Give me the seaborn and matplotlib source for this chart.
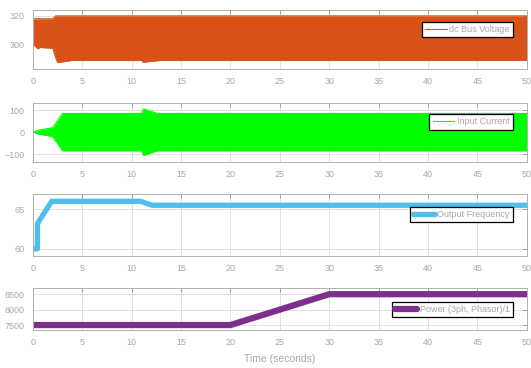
import numpy as np
import pandas as pd
import seaborn as sns
import matplotlib.pyplot as plt
from matplotlib.lines import Line2D

# envelope of dc bus voltage (fast oscillation drawn as band)
v_t = [0, 0.3, 0.5, 0.7, 2.0, 2.3, 2.5, 4, 11, 11.2, 11.5, 13, 50]
v_hi = [318, 318, 318, 318, 318, 320, 320, 320, 320, 320, 320, 320, 320]
v_lo = [300, 298.5, 297, 298, 297.5, 291, 287.5, 289, 289, 287.5, 288, 289, 289]

# envelope of input current
i_t = [0, 0.5, 2.0, 3.0, 11.0, 11.2, 12.6, 50]
i_hi = [0, 8, 20, 85, 85, 106, 85, 85]
i_lo = [0, -8, -20, -85, -85, -106, -85, -85]

# output frequency
f_t = [0, 0.45, 0.46, 1.9, 10.9, 12.1, 50]
f_val = [60, 60, 63.2, 66, 66, 65.5, 65.5]

# power
p_t = [0, 20, 30, 50]
p_val = [7500, 7500, 8500, 8500]

sns.set_style('white')
plt.rcParams['font.family'] = ['Liberation Sans', 'DejaVu Sans']

gray = '#a8a8a8'
fig = plt.figure(figsize=(5.31, 3.68), dpi=100)
left, width = 0.062, 0.930
boxes = [(0.8125, 0.160), (0.5598, 0.160), (0.3043, 0.168), (0.1033, 0.114)]
axes = [fig.add_axes([left, b, width, h]) for b, h in boxes]

orange = '#D95319'
green = '#00FF00'
blue = '#4DBEEE'
purple = '#7E2F8E'

leg_kw = dict(loc='upper right', borderpad=0.35, handlelength=2.4, handletextpad=0.3,
              borderaxespad=0, fontsize=6.5, labelcolor=gray, fancybox=False,
              framealpha=1, edgecolor='black')

ax = axes[0]
ax.fill_between(v_t, v_lo, v_hi, color=orange, lw=0)
sns.lineplot(x=v_t, y=v_hi, ax=ax, color=orange, lw=0.8)
sns.lineplot(x=v_t, y=v_lo, ax=ax, color=orange, lw=0.8)
ax.set_ylim(283, 324)
ax.set_yticks([300, 320])
h1 = [Line2D([], [], color=orange, lw=0.8)]
ax.legend(h1, ['dc Bus Voltage'], bbox_to_anchor=(0.972, 0.80), **leg_kw)

ax = axes[1]
ax.fill_between(i_t, i_lo, i_hi, color=green, lw=0)
sns.lineplot(x=i_t, y=i_hi, ax=ax, color=green, lw=0.8)
sns.lineplot(x=i_t, y=i_lo, ax=ax, color=green, lw=0.8)
ax.set_ylim(-136, 132)
ax.set_yticks([-100, 0, 100])
h2 = [Line2D([], [], color=green, lw=0.8)]
ax.legend(h2, ['Input Current'], bbox_to_anchor=(0.972, 0.81), **leg_kw)

ax = axes[2]
sns.lineplot(x=f_t, y=f_val, ax=ax, color=blue, lw=3.8, label='Output Frequency')
ax.set_ylim(59.1, 66.9)
ax.set_yticks([60, 65])
ax.legend(bbox_to_anchor=(0.972, 0.79), **leg_kw)

ax = axes[3]
sns.lineplot(x=p_t, y=p_val, ax=ax, color=purple, lw=4.5, label='Power (3ph, Phasor)/1')
ax.set_ylim(7340, 8700)
ax.set_yticks([7500, 8000, 8500])
ax.legend(bbox_to_anchor=(0.972, 0.67), **leg_kw)
ax.set_xlabel('Time (seconds)', color=gray, fontsize=7.5, labelpad=5)

for ax in axes:
    ax.set_xlim(0, 50)
    ax.set_xticks(range(0, 51, 5))
    ax.grid(True, color='#dcdcdc', lw=0.6)
    ax.tick_params(direction='in', length=3, width=0.6, colors='#909090',
                   labelcolor=gray, labelsize=6.5, top=True, right=True, pad=6)
    for s in ax.spines.values():
        s.set_color('#b0b0b0')
        s.set_linewidth(0.7)
    ax.get_legend().get_frame().set_linewidth(0.9)

fig.savefig('out.png', dpi=100)
